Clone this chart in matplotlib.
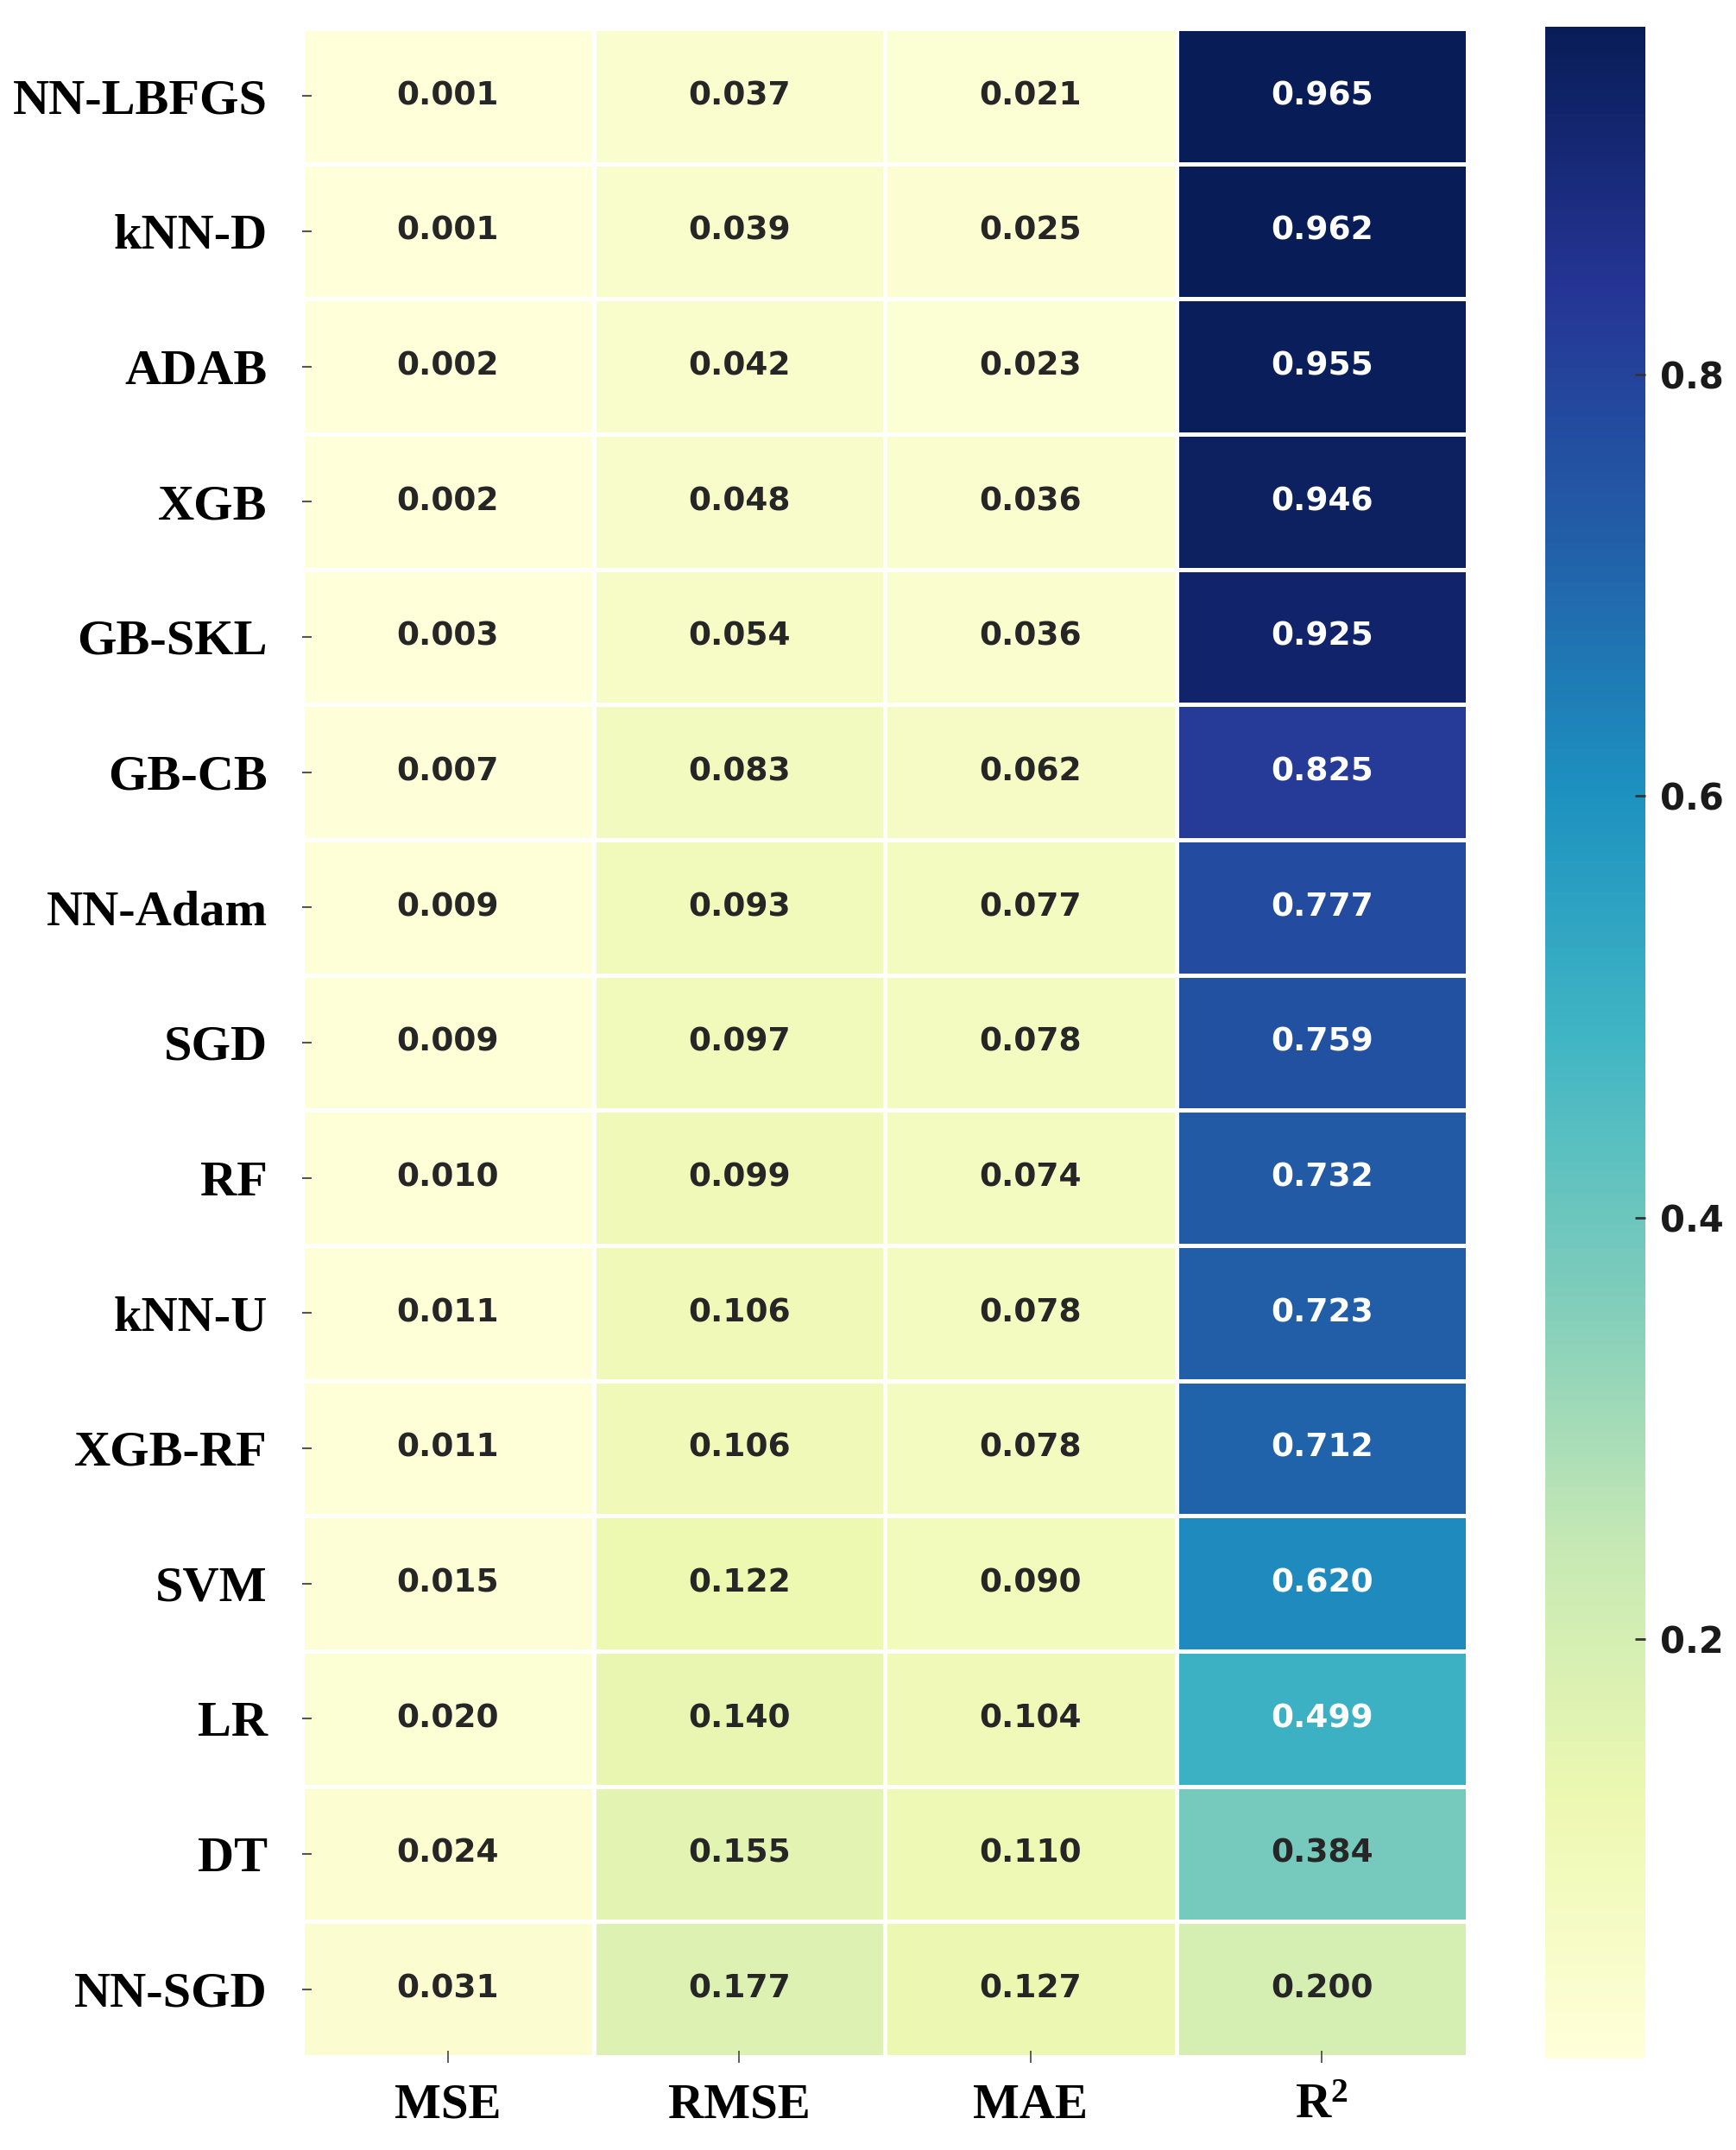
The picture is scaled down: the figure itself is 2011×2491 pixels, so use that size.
import numpy as np
import matplotlib
matplotlib.use("Agg")
import matplotlib.pyplot as plt
from matplotlib import colors as mcolors

plt.rcParams["mathtext.fontset"] = "custom"
plt.rcParams["mathtext.rm"] = "Liberation Serif:bold"
plt.rcParams["mathtext.it"] = "Liberation Serif:bold"
plt.rcParams["mathtext.bf"] = "Liberation Serif:bold"

models = ["NN-LBFGS", "kNN-D", "ADAB", "XGB", "GB-SKL", "GB-CB", "NN-Adam", "SGD",
          "RF", "kNN-U", "XGB-RF", "SVM", "LR", "DT", "NN-SGD"]
metrics = ["MSE", "RMSE", "MAE", r"R$^{2}$"]

mse = [0.001, 0.001, 0.002, 0.002, 0.003, 0.007, 0.009, 0.009, 0.010, 0.011, 0.011, 0.015, 0.020, 0.024, 0.031]
rmse = [0.037, 0.039, 0.042, 0.048, 0.054, 0.083, 0.093, 0.097, 0.099, 0.106, 0.106, 0.122, 0.140, 0.155, 0.177]
mae = [0.021, 0.025, 0.023, 0.036, 0.036, 0.062, 0.077, 0.078, 0.074, 0.078, 0.078, 0.090, 0.104, 0.110, 0.127]
r2 = [0.965, 0.962, 0.955, 0.946, 0.925, 0.825, 0.777, 0.759, 0.732, 0.723, 0.712, 0.620, 0.499, 0.384, 0.200]
cbar_ticks = [0.2, 0.4, 0.6, 0.8]

data = np.column_stack([mse, rmse, mae, r2])
nrows, ncols = data.shape
vmin, vmax = data.min(), data.max()
cmap = plt.get_cmap("YlGnBu")
norm = mcolors.Normalize(vmin=vmin, vmax=vmax)

fig = plt.figure(figsize=(20.11, 24.91), dpi=100)
ax = fig.add_axes([350/2011, 1-2383/2491, (1700-350)/2011, (2383-33)/2491])
cax = fig.add_axes([1790/2011, 1-2385/2491, (1906-1790)/2011, (2385-31)/2491])

mesh = ax.pcolormesh(np.arange(ncols+1), np.arange(nrows+1), data, cmap=cmap, norm=norm,
                     edgecolors="white", linewidth=2.2)
ax.set_xlim(0, ncols)
ax.set_ylim(nrows, 0)
for s in ax.spines.values():
    s.set_visible(False)

def rel_lum(c):
    rgb = np.array(mcolors.to_rgb(c))
    rgb = np.where(rgb <= .03928, rgb / 12.92, ((rgb + .055) / 1.055) ** 2.4)
    return rgb.dot([.2126, .7152, .0722])

for i in range(nrows):
    for j in range(ncols):
        v = data[i, j]
        col = cmap(norm(v))
        tc = "#262626" if rel_lum(col) > .408 else "white"
        ax.text(j + 0.5, i + 0.5, f"{v:.3f}", ha="center", va="center",
                fontsize=27, fontweight="bold", color=tc, family="DejaVu Sans")

ax.set_xticks(np.arange(ncols) + 0.5)
ax.set_xticklabels(metrics, fontsize=41, fontweight="bold", family="Liberation Serif")
ax.set_yticks(np.arange(nrows) + 0.5)
ax.set_yticklabels(models, fontsize=42, fontweight="bold", family="Liberation Serif")
ax.tick_params(axis="x", direction="inout", length=10, width=1.2, color="#444444", pad=17)
ax.tick_params(axis="y", direction="in", length=8, width=1.5, color="#555555", pad=29)

cb = fig.colorbar(mesh, cax=cax)
cb.outline.set_visible(False)
cb.set_ticks(cbar_ticks)
cb.set_ticklabels([f"{t:.1f}" for t in cbar_ticks])
cax.tick_params(direction="in", length=9, width=2, color="#333333", pad=12, labelsize=30)
for lab in cax.get_yticklabels():
    lab.set_fontweight("bold")
    lab.set_color("#1a1a1a")
    lab.set_family("DejaVu Sans")

fig.savefig("out.png", dpi=100)
